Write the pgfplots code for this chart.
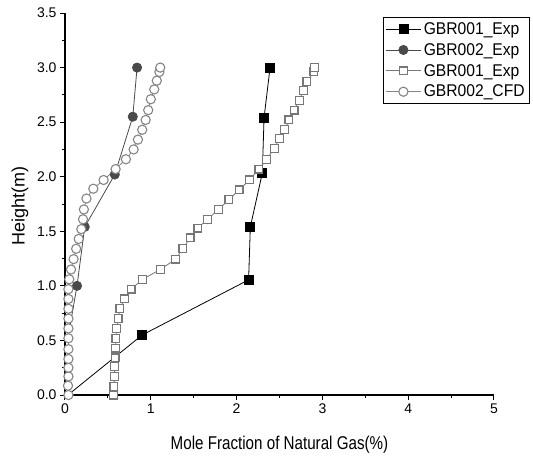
\documentclass[border=0pt]{standalone}
\usepackage{fontspec}
\setmainfont{Liberation Sans}
\newfontfamily\xlabfont{Liberation Sans}[FakeStretch=0.82]
\newfontfamily\legfont{Liberation Sans}[FakeStretch=0.92]
\usepackage{pgfplots}
\pgfplotsset{compat=1.18}
\definecolor{dkgray}{HTML}{4A4A4A}
\definecolor{mgray}{HTML}{777777}
\definecolor{lgray}{HTML}{858585}
\begin{document}
\begin{tikzpicture}
\begin{axis}[
  scale only axis,
  width=429pt, height=382pt,
  xmin=0, xmax=5, ymin=0, ymax=3.5,
  axis x line=bottom, axis y line=left,
  axis line style={-, line width=1.4pt},
  tick align=outside,
  major tick length=5pt, minor tick length=3pt,
  every tick/.style={black, line width=1pt},
  xtick={0,1,2,3,4,5}, minor x tick num=1,
  ytick={0,0.5,1,1.5,2,2.5,3,3.5}, minor y tick num=1,
  /pgf/number format/assume math mode=true,
  yticklabel style={/pgf/number format/.cd, fixed, fixed zerofill, precision=1},
  ticklabel style={font=\fontsize{14}{16}\selectfont},
  xlabel={\xlabfont Mole Fraction of Natural Gas(\%)},
  ylabel={Height(m)},
  every axis x label/.style={at={(axis description cs:0.5,-0.131)}, anchor=center, font=\fontsize{18.5}{20}\selectfont},
  every axis y label/.style={at={(axis description cs:-0.105,0.495)}, rotate=90, anchor=center, font=\fontsize{18}{20}\selectfont},
  clip=false,
  legend style={at={(axis description cs:1.084,0.9895)}, anchor=north east, draw=black, line width=0.8pt,
    font=\legfont\fontsize{17}{19}\selectfont, row sep=3.5pt, inner xsep=3pt, inner ysep=3pt},
  legend cell align=left,
  legend image code/.code={\draw[mark indices={2}] plot coordinates {(0pt,0pt) (17pt,0pt) (35pt,0pt)};},
]
\addplot[black, line width=0.8pt, mark=square*, mark size=4.5pt, mark indices={2,3,4,5,6,7}, mark options={fill=black, solid}] coordinates {
(0.05,0.01) (0.90,0.55) (2.14,1.055) (2.16,1.54) (2.30,2.035) (2.32,2.54) (2.39,3.0)};
\addlegendentry{GBR001\_Exp}
\addplot[dkgray, line width=0.8pt, mark=*, mark size=4.6pt, mark indices={3,4,5,6,7}, mark options={fill=dkgray, draw=dkgray, solid}] coordinates {
(0.04,0.0) (0.04,0.55) (0.14,1.0) (0.23,1.54) (0.58,2.02) (0.79,2.55) (0.84,3.0)};
\addlegendentry{GBR002\_Exp}
\addplot[mgray, line width=0.8pt, mark=square*, mark size=3.9pt, mark options={fill=white, draw=mgray, line width=1.2pt, solid}] coordinates {
(0.563,0.00) (0.57,0.08) (0.575,0.17) (0.577,0.26) (0.583,0.34) (0.59,0.43) (0.594,0.52) (0.60,0.61)
(0.62,0.70) (0.64,0.79) (0.69,0.88) (0.77,0.97) (0.905,1.06) (1.11,1.15) (1.29,1.245) (1.375,1.34)
(1.457,1.44) (1.55,1.53) (1.66,1.61) (1.79,1.70) (1.91,1.79) (2.03,1.88) (2.15,1.97) (2.26,2.07)
(2.35,2.16) (2.44,2.26) (2.50,2.35) (2.56,2.43) (2.61,2.52) (2.67,2.61) (2.73,2.70) (2.78,2.79)
(2.82,2.87) (2.90,2.96) (2.91,3.00)};
\addlegendentry{GBR001\_Exp}
\addplot[lgray, line width=0.8pt, mark=*, mark size=4.6pt, mark options={fill=white, draw=lgray, line width=1.1pt, solid}] coordinates {
(0.04,0.0) (0.035,0.085) (0.04,0.17) (0.04,0.25) (0.04,0.33) (0.04,0.42) (0.04,0.52) (0.04,0.61)
(0.04,0.70) (0.04,0.79) (0.04,0.88) (0.04,0.97) (0.05,1.06) (0.07,1.15) (0.10,1.245) (0.13,1.34)
(0.16,1.43) (0.19,1.52) (0.21,1.61) (0.22,1.70) (0.25,1.80) (0.33,1.89) (0.45,1.97) (0.59,2.07)
(0.71,2.16) (0.80,2.25) (0.85,2.34) (0.90,2.43) (0.94,2.52) (0.97,2.61) (1.00,2.71) (1.04,2.80)
(1.07,2.88) (1.10,2.96) (1.11,3.00)};
\addlegendentry{GBR002\_CFD}
\end{axis}
\path (current axis.south west) ++(-65pt,-64pt) rectangle ++(533pt,459pt);
\end{tikzpicture}
\end{document}
